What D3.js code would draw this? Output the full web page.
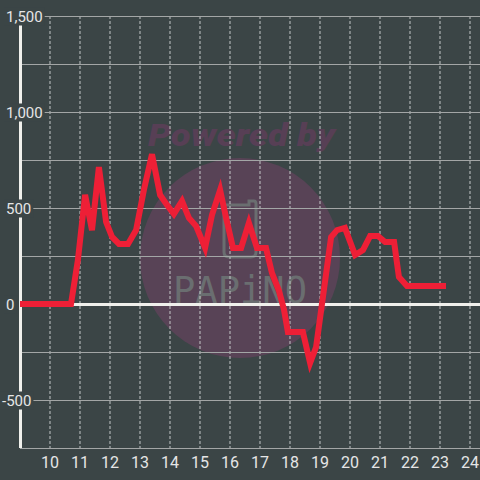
<!DOCTYPE html>
<html><head><meta charset="utf-8">
<script src="https://cdn.jsdelivr.net/npm/d3@7"></script>
<style>html,body{margin:0;padding:0;background:#3b4546;}svg{display:block;}</style>
</head><body>
<script>
const hours = [9.0,10.7,10.93,11.17,11.4,11.63,11.87,12.07,12.3,12.6,12.87,13.13,13.4,13.67,13.9,14.13,14.4,14.63,14.87,15.17,15.4,15.67,15.87,16.1,16.37,16.63,16.9,17.2,17.4,17.63,17.8,17.93,18.43,18.67,18.87,19.37,19.57,19.83,20.17,20.43,20.67,20.93,21.17,21.47,21.63,21.9,23.2];
const values = [0,0,229,568,385,713,427,349,313,313,385,594,780,568,516,469,536,448,406,292,464,594,448,292,292,422,292,292,161,70,-30,-146,-146,-307,-224,349,385,396,255,281,354,354,323,323,141,94,94];
const xTicks = [10,11,12,13,14,15,16,17,18,19,20,21,22,23,24];
const yTickLabels = [-500,0,500,1000,1500];
const yGrid = [-500,-250,250,500,750,1000,1250,1500];

const W=480,H=480,bg="#3b4546";
const svg=d3.select("body").append("svg").attr("width",W).attr("height",H);
svg.append("rect").attr("width",W).attr("height",H).attr("fill",bg);
const x=d3.scaleLinear().domain([9,24.3333]).range([20,480]);
const y=d3.scaleLinear().domain([-750,1500]).range([448,16]);

// watermark
const wm=svg.append("g");
wm.append("circle").attr("cx",240).attr("cy",258).attr("r",100).attr("fill","#584356");
wm.append("text").attr("x",148).attr("y",146)
  .attr("font-family","Roboto").attr("font-weight","900").attr("font-style","italic")
  .attr("font-size",31).attr("fill","#573f55").attr("textLength",187).attr("lengthAdjust","spacingAndGlyphs").text("Powered by");
wm.append("path").attr("d","M226,205 L249,205 L249,201 L254,201 Q256,201 256,204 L256,252 Q256,257 251,257 L229,257 Q224,257 224,252 L224,207 Q224,205 226,205 Z")
  .attr("fill","none").attr("stroke","#6a6e70").attr("stroke-width",3);
wm.append("text").attr("x",173).attr("y",303)
  .attr("font-family","DejaVu Sans Mono").attr("font-size",37).attr("fill","#6a6e70")
  .attr("textLength",134).attr("lengthAdjust","spacingAndGlyphs").text("PAPiNO");

// vertical dashed grid
svg.append("g").selectAll("line").data(xTicks).join("line")
  .attr("x1",d=>x(d)).attr("x2",d=>x(d)).attr("y1",y(1500)).attr("y2",y(-750))
  .attr("stroke","#c4c8c8").attr("stroke-width",1).attr("stroke-dasharray","3,2");
// horizontal grid
svg.append("g").selectAll("line").data(yGrid).join("line")
  .attr("x1",20).attr("x2",W).attr("y1",d=>y(d)+0.5).attr("y2",d=>y(d)+0.5)
  .attr("stroke","#a3a6a6").attr("stroke-width",1);
// bottom axis line
svg.append("line").attr("x1",20).attr("x2",W).attr("y1",y(-750)+0.5).attr("y2",y(-750)+0.5)
  .attr("stroke","#a3a6a6").attr("stroke-width",1);
// zero line
svg.append("line").attr("x1",20).attr("x2",W).attr("y1",y(0)+0.5).attr("y2",y(0)+0.5)
  .attr("stroke","#f0f0ec").attr("stroke-width",3);
// y axis line
svg.append("line").attr("x1",20.5).attr("x2",20.5).attr("y1",y(1500)).attr("y2",y(-750))
  .attr("stroke","#f0f0ec").attr("stroke-width",3);

// y labels with bg
const fmt=d3.format(",");
const yl=svg.append("g").selectAll("g").data(yTickLabels).join("g");
yl.each(function(d){
  const g=d3.select(this);
  const r=g.append("rect").attr("fill",bg);
  const t=g.append("text").attr("x",d<0?2:6).attr("y",y(d)+0.5).attr("dominant-baseline","central")
    .attr("font-family","Roboto").attr("font-size",15).attr("fill","#e6e6e6").text(fmt(d).replace("−","-"));
  const b=t.node().getBBox();
  r.attr("x",b.x-2).attr("y",b.y).attr("width",b.width+4).attr("height",b.height);
});
// x labels
svg.append("g").selectAll("text").data(xTicks).join("text")
  .attr("x",d=>x(d)).attr("y",462).attr("text-anchor","middle").attr("dominant-baseline","central")
  .attr("font-family","Roboto").attr("font-size",16).attr("fill","#e6e6e6").text(d=>d);

// line
const line=d3.line().x((d,i)=>x(hours[i])).y(d=>y(d));
svg.append("path").datum(values).attr("d",line).attr("fill","none")
  .attr("stroke","#ee1f36").attr("stroke-width",6).attr("stroke-linejoin","miter");
</script>
</body></html>
